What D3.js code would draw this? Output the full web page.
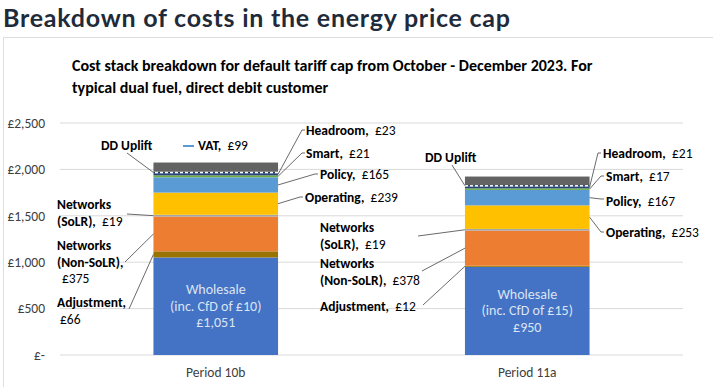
<!DOCTYPE html>
<html>
<head>
<meta charset="utf-8">
<script src="https://cdn.jsdelivr.net/npm/d3@7"></script>
<style>
  html, body { margin: 0; padding: 0; background: #fff; }
  svg { display: block; }
</style>
</head>
<body>
<svg id="chart" width="713" height="387"></svg>
<script>
// Data
const categories = ["Period 10b", "Period 11a"];
const components = ["Wholesale", "Adjustment", "Networks (Non-SoLR)", "Networks (SoLR)",
  "Operating", "Policy", "Smart", "Headroom", "DD Uplift", "VAT"];
const period10b = [1051, 66, 375, 19, 239, 165, 21, 23, 16, 99];
const period11a = [950, 12, 378, 19, 253, 167, 17, 21, 14, 92];
const cfd = ["£10", "£15"];
const yTicks = [0, 500, 1000, 1500, 2000, 2500];
const yTickLabels = ["£-", "£500", "£1,000", "£1,500", "£2,000", "£2,500"];

// Styles
const COLORS = ["#4472C4", "#997300", "#ED7D31", "#A5A5A5", "#FFC000",
  "#5B9BD5", "#70AD47", "#264478", "url(#ddPattern)", "#636363"];
const FONT = "Carlito, Calibri, Lato, sans-serif";

const svg = d3.select("#chart");
const defs = svg.append("defs");
const pat = defs.append("pattern").attr("id", "ddPattern")
  .attr("patternUnits", "userSpaceOnUse").attr("width", 5).attr("height", 4);
pat.append("rect").attr("width", 5).attr("height", 4).attr("fill", "#1F3864");
pat.append("rect").attr("width", 3).attr("height", 4).attr("fill", "#ffffff");

// Page title
svg.append("text")
  .attr("x", 3).attr("y", 27)
  .attr("font-family", "Lato, sans-serif").attr("font-weight", 700)
  .attr("font-size", 25).attr("fill", "#1f2b3a")
  .attr("textLength", 507).attr("lengthAdjust", "spacing")
  .text("Breakdown of costs in the energy price cap");

// Chart frame
svg.append("rect")
  .attr("x", 3.5).attr("y", 37.5).attr("width", 720).attr("height", 360)
  .attr("fill", "none").attr("stroke", "#dedede");

// Chart title
const titleLines = ["Cost stack breakdown for default tariff cap from October - December 2023. For",
  "typical dual fuel, direct debit customer"];
svg.append("g").selectAll("text").data(titleLines).join("text")
  .attr("x", 72).attr("y", (d, i) => 71 + i * 22)
  .attr("font-family", FONT).attr("font-weight", 700).attr("font-size", 16)
  .attr("fill", "#000")
  .text(d => d);

// Scales
const x = d3.scaleBand().domain(categories).range([60, 683])
  .paddingInner(0.6).paddingOuter(0.3);
const y = d3.scaleLinear().domain([0, 2500]).range([355, 123]);

// Gridlines
svg.append("g").selectAll("line").data(yTicks).join("line")
  .attr("x1", 60).attr("x2", 683)
  .attr("y1", d => y(d)).attr("y2", d => y(d))
  .attr("stroke", "#d9d9d9").attr("stroke-width", 1);

// Y axis labels
const yAxis = d3.axisLeft(y).tickValues(yTicks)
  .tickFormat((d, i) => yTickLabels[i]).tickSize(0).tickPadding(0);
const yg = svg.append("g").attr("transform", "translate(45,0)").call(yAxis);
yg.select(".domain").remove();
yg.selectAll("text").attr("font-family", FONT).attr("font-size", 13.5).attr("fill", "#404040");

// X axis labels
const xAxis = d3.axisBottom(x).tickSize(0).tickPadding(0);
const xg = svg.append("g").attr("transform", "translate(0,367)").call(xAxis);
xg.select(".domain").remove();
xg.selectAll("text").attr("font-family", FONT).attr("font-size", 13.5).attr("fill", "#404040");

// Stacks
const rows = categories.map(cat => {
  const r = { cat };
  components.forEach((c, i) => { r[c] = cat === "Period 10b" ? period10b[i] : period11a[i]; });
  return r;
});
const stack = d3.stack().keys(components)(rows);

svg.append("g").selectAll("g").data(stack).join("g")
  .attr("fill", (d, i) => COLORS[i])
  .selectAll("rect").data(d => d).join("rect")
  .attr("x", d => x(d.data.cat))
  .attr("width", x.bandwidth())
  .attr("y", d => y(d[1]))
  .attr("height", d => y(d[0]) - y(d[1]));

// helper: segment midpoint
const seg = (cat, key) => {
  const s = stack[components.indexOf(key)][categories.indexOf(cat)];
  return y((s[0] + s[1]) / 2);
};
const leftEdge = cat => x(cat);
const rightEdge = cat => x(cat) + x.bandwidth();

// Wholesale labels inside bars
categories.forEach((cat, ci) => {
  const vals = ci === 0 ? period10b : period11a;
  const cy = seg(cat, "Wholesale");
  const lines = ["Wholesale", `(inc. CfD of ${cfd[ci]})`, "£" + d3.format(",")(vals[0])];
  svg.append("g").selectAll("text").data(lines).join("text")
    .attr("x", x(cat) + x.bandwidth() / 2)
    .attr("y", (d, i) => cy - 12 + i * 16.5)
    .attr("text-anchor", "middle")
    .attr("font-family", FONT).attr("font-size", 14).attr("fill", "#dbe4f3")
    .text(d => d);
});

// Data labels with leader lines
// lines: [bold part, regular part]
const labels = [
  { cat: "Period 10b", key: "DD Uplift", x: 101, y: 150, lines: [["DD Uplift", ""]], from: [127, 153], side: "L" },
  { cat: "Period 10b", key: "Networks (SoLR)", x: 57, y: 209, lines: [["Networks", ""], ["(SoLR),", "£19"]], from: [127, 214], side: "L" },
  { cat: "Period 10b", key: "Networks (Non-SoLR)", x: 57, y: 250, lines: [["Networks", ""], ["(Non-SoLR),", ""], ["", "£375"]], from: [125, 262], side: "L", indent: [0, 0, 5] },
  { cat: "Period 10b", key: "Adjustment", x: 57, y: 307, lines: [["Adjustment,", ""], ["", "£66"]], from: [129, 309], side: "L", indent: [0, 3] },
  { cat: "Period 10b", key: "Headroom", x: 306, y: 135, lines: [["Headroom,", "£23"]], from: [305, 130], side: "R", hook: true },
  { cat: "Period 10b", key: "Smart", x: 306, y: 158, lines: [["Smart,", "£21"]], from: [305, 153], side: "R", hook: true },
  { cat: "Period 10b", key: "Policy", x: 320, y: 179, lines: [["Policy,", "£165"]], from: [318, 174], side: "R", hook: true },
  { cat: "Period 10b", key: "Operating", x: 305, y: 202, lines: [["Operating,", "£239"]], from: [303, 197], side: "R", hook: true },
  { cat: "Period 11a", key: "DD Uplift", x: 425, y: 162, lines: [["DD Uplift", ""]], from: [452, 165], side: "L" },
  { cat: "Period 11a", key: "Networks (SoLR)", x: 320, y: 232, lines: [["Networks", ""], ["(SoLR),", "£19"]], from: [418, 236], side: "L" },
  { cat: "Period 11a", key: "Networks (Non-SoLR)", x: 320, y: 268, lines: [["Networks", ""], ["(Non-SoLR),", "£378"]], from: [422, 271], side: "L" },
  { cat: "Period 11a", key: "Adjustment", x: 320, y: 311, lines: [["Adjustment,", "£12"]], from: [423, 305], side: "L" },
  { cat: "Period 11a", key: "Headroom", x: 603, y: 158, lines: [["Headroom,", "£21"]], from: [601, 153], side: "R", hook: true },
  { cat: "Period 11a", key: "Smart", x: 606, y: 181, lines: [["Smart,", "£17"]], from: [604, 176], side: "R", hook: true },
  { cat: "Period 11a", key: "Policy", x: 606, y: 206, lines: [["Policy,", "£167"]], from: [604, 199], side: "R", hook: true },
  { cat: "Period 11a", key: "Operating", x: 606, y: 237, lines: [["Operating,", "£253"]], from: [604, 232], side: "R", hook: true }
];

const lg = svg.append("g");
labels.forEach(l => {
  const tx = l.side === "L" ? leftEdge(l.cat) : rightEdge(l.cat);
  const ty = seg(l.cat, l.key);
  const pts = [l.from];
  if (l.hook) pts.push([l.from[0] - 3, l.from[1]]);
  pts.push([tx, ty]);
  lg.append("path")
    .attr("d", d3.line()(pts))
    .attr("fill", "none").attr("stroke", "#595959").attr("stroke-width", 0.9);

  l.lines.forEach((ln, i) => {
    const t = lg.append("text")
      .attr("x", l.x + (l.indent ? l.indent[i] : 0)).attr("y", l.y + i * 16.5)
      .attr("font-family", FONT).attr("font-size", 13.5).attr("fill", "#000")
      .attr("xml:space", "preserve");
    if (ln[0]) t.append("tspan").attr("font-weight", 700).text(ln[0]);
    if (ln[1]) t.append("tspan").text((ln[0] ? "  " : "") + ln[1]);
  });
});

// VAT legend-style label
svg.append("line").attr("x1", 183).attr("x2", 194).attr("y1", 146).attr("y2", 146)
  .attr("stroke", "#5B9BD5").attr("stroke-width", 2);
const vt = svg.append("text").attr("x", 198).attr("y", 150)
  .attr("font-family", FONT).attr("font-size", 13.5).attr("fill", "#000")
  .attr("xml:space", "preserve");
vt.append("tspan").attr("font-weight", 700).text("VAT,");
vt.append("tspan").text("  £" + period10b[9]);
</script>
</body>
</html>
